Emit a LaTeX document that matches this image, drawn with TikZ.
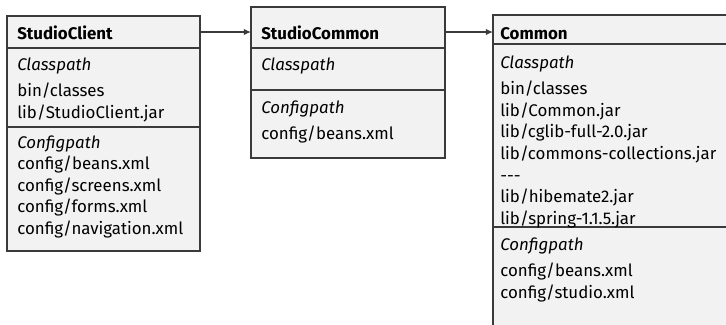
\documentclass[tikz,border=0pt]{standalone}
\usepackage{fontspec}
\setmainfont{Fira Sans}
\usepackage{xcolor}
\usetikzlibrary{calc, positioning, arrows.meta}
\definecolor{boxfill}{HTML}{F2F2F3}
\definecolor{boxline}{HTML}{3A3A3A}
% top-aligned column of lines, so that 'base' is the first line
\newcommand{\pathlist}[1]{\begin{tabular}[t]{@{}l@{}}#1\end{tabular}}

\begin{document}
\begin{tikzpicture}[x=0.025cm, y=-0.025cm]

        % 1. Page limits (the Common box runs off the right and bottom edges)
        \clip (0,0) rectangle (726,324);

        \tikzset{
            boxpart/.style={draw=boxline, fill=boxfill, line width=0.9pt, inner sep=0pt, outer sep=0pt, anchor=north west},
            boxtext/.style={anchor=base west, inner sep=0pt, font=\fontsize{12}{15.4}\selectfont},
            boxtitle/.style={boxtext, font=\fontsize{12}{15.4}\selectfont\bfseries},
            dependency/.style={draw=boxline, line width=0.9pt, -{Latex[length=5pt, width=4.5pt]}}
        }
        \def\headgap{0.12cm}

        % 2. StudioClient box
        \node[boxpart, minimum width=4.825cm, minimum height=0.8cm] (sc-head) at (7,16) {};
        \node[boxpart, minimum width=4.825cm, minimum height=1.975cm, below=0pt of sc-head] (sc-cp) {};
        \node[boxpart, minimum width=4.825cm, minimum height=3.1cm, below=0pt of sc-cp] (sc-cfg) {};

        \node[boxtitle] (sc-title) at ($(sc-head.north west)+(10,23)$) {StudioClient};
        \node[boxtext] (sc-cp-text) at ($(sc-cp.north west)+(10,22)$)
            {\pathlist{\textit{Classpath}\\[\headgap] bin/classes\\ lib/StudioClient.jar}};
        \node[boxtext] (sc-cfg-text) at ($(sc-cfg.north west)+(10,21)$)
            {\pathlist{\textit{Configpath}\\ config/beans.xml\\ config/screens.xml\\ config/forms.xml\\ config/navigation.xml}};

        % 3. StudioCommon box
        \node[boxpart, minimum width=4.85cm, minimum height=1.025cm] (scm-head) at (251,7) {};
        \node[boxpart, minimum width=4.85cm, minimum height=1.05cm, below=0pt of scm-head] (scm-cp) {};
        \node[boxpart, minimum width=4.85cm, minimum height=1.7cm, below=0pt of scm-cp] (scm-cfg) {};

        \node[boxtitle] (scm-title) at ($(scm-head.north west)+(10,32)$) {StudioCommon};
        \node[boxtext] (scm-cp-text) at ($(scm-cp.north west)+(10,22)$) {\textit{Classpath}};
        \node[boxtext] (scm-cfg-text) at ($(scm-cfg.north west)+(10,23)$)
            {\pathlist{\textit{Configpath}\\[\headgap] config/beans.xml}};

        % 4. Common box
        \node[boxpart, minimum width=6.5cm, minimum height=0.725cm] (cm-head) at (493,15) {};
        \node[boxpart, minimum width=6.5cm, minimum height=4.575cm, below=0pt of cm-head] (cm-cp) {};
        \node[boxpart, minimum width=6.5cm, minimum height=3.25cm, below=0pt of cm-cp] (cm-cfg) {};

        \node[boxtitle] (cm-title) at ($(cm-head.north west)+(7,24)$) {Common};
        \node[boxtext] (cm-cp-text) at ($(cm-cp.north west)+(7,24)$)
            {\pathlist{\textit{Classpath}\\[\headgap] bin/classes\\ lib/Common.jar\\ lib/cglib-full-2.0.jar\\
             lib/commons-collections.jar\\ -{}-{}-\\ lib/hibemate2.jar\\ lib/spring-1.1.5.jar}};
        \node[boxtext] (cm-cfg-text) at ($(cm-cfg.north west)+(7,23)$)
            {\pathlist{\textit{Configpath}\\[\headgap] config/beans.xml\\ config/studio.xml}};

        % 5. Dependencies between the boxes
        \draw[dependency] (sc-head.east) -- (sc-head.east -| scm-head.west);
        \draw[dependency] (sc-head.east -| scm-head.east) -- (sc-head.east -| cm-head.west);

\end{tikzpicture}
\end{document}
